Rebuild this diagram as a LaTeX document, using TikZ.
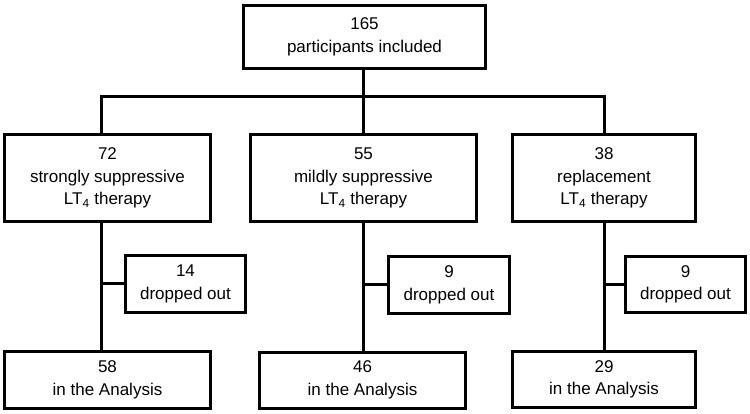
\documentclass[tikz,border=0pt]{standalone}
\usepackage{fontspec}
\setmainfont{Liberation Sans}
\begin{document}
\begin{tikzpicture}[x=1pt,y=-1pt,
  box/.style={draw, line width=3pt, align=center, inner sep=0pt,
    font=\fontsize{17}{22.5}\selectfont},
  conn/.style={line width=3pt, line join=miter}]
\useasboundingbox (0,0) rectangle (750,414);
\node[box, minimum width=242pt, minimum height=63pt] (T) at (364.5,37) {165\\participants included};
\node[box, minimum width=206pt, minimum height=87pt] (L1) at (107.5,178) {72\\strongly suppressive\\LT\textsubscript{4} therapy};
\node[box, minimum width=226pt, minimum height=87pt] (M1) at (363.5,178) {55\\mildly suppressive\\LT\textsubscript{4} therapy};
\node[box, minimum width=183pt, minimum height=87pt] (R1) at (604,178) {38\\replacement\\LT\textsubscript{4} therapy};
\node[box, minimum width=120pt, minimum height=56pt] (LD) at (185.5,284) {14\\dropped out};
\node[box, minimum width=121pt, minimum height=56pt] (MD) at (449,285) {9\\dropped out};
\node[box, minimum width=120pt, minimum height=56pt] (RD) at (685.5,284.5) {9\\dropped out};
\node[box, minimum width=206pt, minimum height=57pt] (LA) at (107.5,380) {58\\in the Analysis};
\node[box, minimum width=206pt, minimum height=56pt] (MA) at (362.5,380) {46\\in the Analysis};
\node[box, minimum width=183pt, minimum height=56pt] (RA) at (604,379.5) {29\\in the Analysis};
\coordinate (tL) at (101.5,97);
\coordinate (tM) at (363.5,97);
\coordinate (tR) at (604,97);
\draw[conn] (tL |- L1.north) -- (tL) -- (tR) -- (tR |- R1.north);
\draw[conn] (T.south -| tM) -- (tM |- M1.north);
\draw[conn] (tL |- L1.south) -- (tL |- LA.north);
\draw[conn] (tM |- M1.south) -- (tM |- MA.north);
\draw[conn] (tR |- R1.south) -- (tR |- RA.north);
\draw[conn] (LD.west) -- (LD.west -| tL);
\draw[conn] (MD.west) -- (MD.west -| tM);
\draw[conn] (RD.west) -- (RD.west -| tR);
\end{tikzpicture}
\end{document}
